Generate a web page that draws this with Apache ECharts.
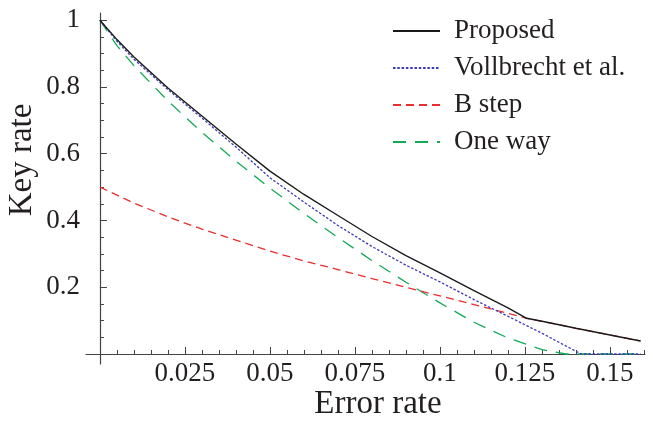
<!DOCTYPE html>
<html>
<head>
<meta charset="utf-8">
<script src="https://cdn.jsdelivr.net/npm/echarts@6/dist/echarts.min.js"></script>
<style>
html,body{margin:0;padding:0;background:#fff;}
#chart{width:653px;height:432px;}
</style>
</head>
<body>
<div id="chart"></div>
<script>
// ---- data ----
const proposedX = [0,0.005,0.01,0.02,0.03,0.04,0.05,0.06,0.07,0.08,0.09,0.1,0.11,0.12,0.1255,0.13,0.14,0.15,0.159];
const proposedY = [1,0.942,0.89,0.797,0.713,0.629,0.548,0.478,0.415,0.352,0.295,0.243,0.19,0.138,0.107,0.098,0.077,0.057,0.039];

const vollX = [0,0.005,0.01,0.02,0.03,0.04,0.05,0.06,0.07,0.08,0.09,0.1,0.11,0.12,0.13,0.1415,0.159];
const vollY = [1,0.937,0.883,0.792,0.707,0.62,0.528,0.455,0.385,0.322,0.266,0.216,0.163,0.113,0.062,0,0];

const bstepX = [0,0.01,0.02,0.03,0.04,0.05,0.06,0.07,0.08,0.09,0.1,0.11,0.12,0.1255,0.13,0.14,0.15,0.159];
const bstepY = [0.5,0.452,0.411,0.374,0.341,0.308,0.279,0.253,0.226,0.2,0.174,0.148,0.122,0.107,0.098,0.077,0.057,0.039];

const oneWayX = [0,0.005,0.01,0.02,0.03,0.04,0.05,0.06,0.07,0.08,0.09,0.1,0.11,0.12,0.13,0.137,0.159];
const oneWayY = [1,0.924,0.864,0.758,0.664,0.578,0.497,0.421,0.349,0.28,0.215,0.153,0.095,0.048,0.013,0,0];

const seriesNames = ['Proposed','Vollbrecht et al.','B step','One way'];
const xTickLabels = [0.025,0.05,0.075,0.1,0.125,0.15];
const yTickLabels = [0.2,0.4,0.6,0.8,1];
const xTitle = 'Error rate';
const yTitle = 'Key rate';

// ---- minor tick positions ----
const xMinor = []; for (let i = 0; i <= 32; i++) xMinor.push(+(i*0.005).toFixed(3));
const yMinor = []; for (let i = 0; i <= 20; i++) yMinor.push(+(i*0.05).toFixed(2));

const pairs = (xs, ys) => xs.map((x, i) => [x, ys[i]]);
const FONT = '"Liberation Serif","DejaVu Serif",serif';
const TXT = '#231f20';

const chart = echarts.init(document.getElementById('chart'), null, {renderer:'canvas'});
const axLine = {show:true, onZero:true, lineStyle:{color:'#444', width:1.2}};
const X_MIN = -0.0041, X_MAX = 0.1603, Y_MIN = -0.03, Y_MAX = 1.0217;

chart.setOption({
  animation:false,
  backgroundColor:'#fff',
  grid:{left:86, right:8, top:13, bottom:68, containLabel:false, outerBoundsMode:'none'},
  legend:{
    data:seriesNames, orient:'vertical', left:387, top:11,
    itemWidth:47, itemHeight:14, itemGap:7,
    itemStyle:{opacity:0},
    textStyle:{fontFamily:FONT, fontSize:27, color:TXT, lineHeight:30, padding:[0,0,0,9]}
  },
  graphic:[
    {type:'text', x:378, y:404, style:{text:xTitle, font:'33px "Liberation Serif", serif', fill:TXT, align:'center', verticalAlign:'middle'}},
    {type:'text', x:22, y:160, rotation:Math.PI/2, style:{text:yTitle, font:'33px "Liberation Serif", serif', fill:TXT, align:'center', verticalAlign:'middle'}}
  ],
  xAxis:[{
    type:'value', min:X_MIN, max:X_MAX,
    axisLine:axLine,
    axisTick:{show:true, inside:true, length:4, customValues:xMinor, lineStyle:{color:'#444'}},
    axisLabel:{show:true, customValues:xTickLabels, margin:-4, fontFamily:FONT, fontSize:27, color:TXT},
    splitLine:{show:false}
  },{
    type:'value', min:X_MIN, max:X_MAX, position:'bottom',
    axisLine:{show:false, onZero:true},
    axisTick:{show:true, inside:true, length:7, customValues:xTickLabels, lineStyle:{color:'#444'}},
    axisLabel:{show:false}, splitLine:{show:false}
  }],
  yAxis:[{
    type:'value', min:Y_MIN, max:Y_MAX,
    axisLine:axLine,
    axisTick:{show:true, inside:true, length:4, customValues:yMinor, lineStyle:{color:'#444'}},
    axisLabel:{show:true, customValues:yTickLabels, margin:6, fontFamily:FONT, fontSize:27, color:TXT},
    splitLine:{show:false}
  },{
    type:'value', min:Y_MIN, max:Y_MAX, position:'left',
    axisLine:{show:false, onZero:true},
    axisTick:{show:true, inside:true, length:7, customValues:yTickLabels, lineStyle:{color:'#444'}},
    axisLabel:{show:false}, splitLine:{show:false}
  }],
  series:[
    {name:'One way', type:'line', data:pairs(oneWayX, oneWayY), showSymbol:false, symbol:'none',
     smooth:false, z:2,
     lineStyle:{color:'#12a957', width:1.3, type:[13,9]}, itemStyle:{color:'#12a957'}},
    {name:'B step', type:'line', data:pairs(bstepX, bstepY), showSymbol:false, symbol:'none',
     smooth:false, z:3,
     lineStyle:{color:'#ec2d2d', width:1.3, type:[8,5]}, itemStyle:{color:'#ec2d2d'}},
    {name:'Vollbrecht et al.', type:'line', data:pairs(vollX, vollY), showSymbol:false, symbol:'none',
     smooth:false, z:4,
     lineStyle:{color:'#3a3ab4', width:1.3, type:[2.5,1.8]}, itemStyle:{color:'#3a3ab4'}},
    {name:'Proposed', type:'line', data:pairs(proposedX, proposedY), showSymbol:false, symbol:'none',
     smooth:false, z:5,
     lineStyle:{color:'#1a1a1a', width:1.4, type:'solid'}, itemStyle:{color:'#1a1a1a'}}
  ]
});
</script>
</body>
</html>
